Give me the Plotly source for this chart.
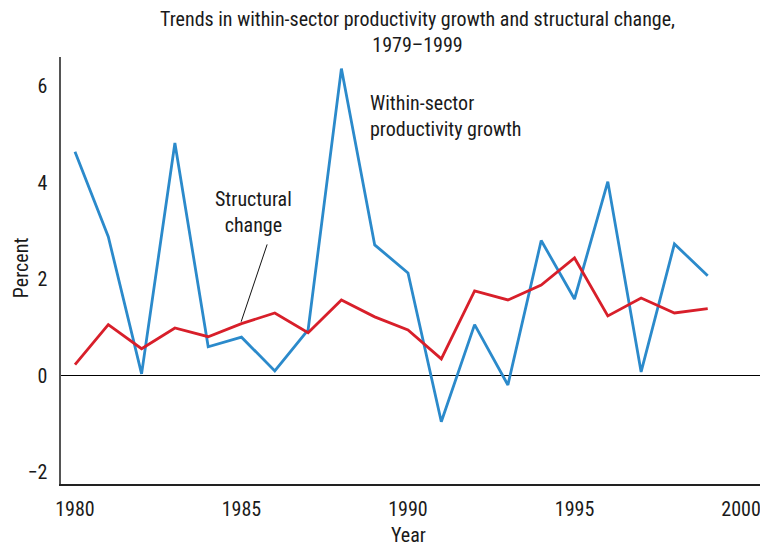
"""Within-sector productivity growth vs structural change, 1979-1999."""

import plotly.graph_objects as go

years = list(range(1980, 2000))
within_sector = [4.64, 2.88, 0.04, 4.82, 0.60, 0.80, 0.10, 0.95, 6.36, 2.71,
                 2.13, -0.95, 1.06, -0.19, 2.80, 1.59, 4.02, 0.08, 2.73, 2.07]
structural = [0.23, 1.06, 0.56, 0.99, 0.81, 1.08, 1.30, 0.89, 1.57, 1.22,
              0.95, 0.35, 1.76, 1.57, 1.88, 2.44, 1.24, 1.61, 1.30, 1.39]
x_ticks = [1980, 1985, 1990, 1995, 2000]
y_ticks = [-2, 0, 2, 4, 6]
y_tick_text = ["\u22122", "0", "2", "4", "6"]

FONT = "Liberation Sans Narrow, Roboto Condensed, Arial Narrow, sans-serif"
BLUE = "#2b8acb"
RED = "#d81f2a"
TEXT = "#1a1a1a"
SIZE = 20

fig = go.Figure()
fig.add_trace(go.Scatter(x=years, y=within_sector, mode="lines",
                         line=dict(color=BLUE, width=2.8), showlegend=False))
fig.add_trace(go.Scatter(x=years, y=structural, mode="lines",
                         line=dict(color=RED, width=2.8), showlegend=False))

# page body has an 8px margin, so the figure is sized to fit the window
fig.update_layout(
    width=760,
    height=539,
    paper_bgcolor="white",
    plot_bgcolor="white",
    font=dict(family=FONT, size=SIZE, color=TEXT),
    margin=dict(l=53, r=3, t=49, b=63, autoexpand=False),
)
fig.update_xaxes(
    range=[1979.58, 2000.72],
    tickvals=x_ticks,
    showgrid=False,
    zeroline=False,
    showline=True,
    linecolor="#222222",
    linewidth=1.5,
    ticks="",
    automargin=False,
    ticklabelstandoff=6,
    tickfont=dict(size=SIZE, color=TEXT),
)
fig.update_yaxes(
    range=[-2.24, 6.6],
    tickvals=y_ticks,
    ticktext=y_tick_text,
    showgrid=False,
    zeroline=True,
    zerolinecolor="#000000",
    zerolinewidth=1.2,
    showline=True,
    linecolor="#555555",
    linewidth=1.5,
    ticks="",
    automargin=False,
    ticklabelstandoff=8,
    tickfont=dict(size=SIZE, color=TEXT),
)

# title and axis titles placed as paper annotations
fig.add_annotation(
    x=0.507, y=1.058, xref="paper", yref="paper",
    text="Trends in within-sector productivity growth and structural change,<br>1979\u20131999",
    showarrow=False, xanchor="center", yanchor="middle", align="center",
    font=dict(size=SIZE, color=TEXT),
)
fig.add_annotation(
    x=-0.0565, y=0.506, xref="paper", yref="paper",
    text="Percent", textangle=-90, borderpad=0,
    showarrow=False, xanchor="center", yanchor="middle",
    font=dict(size=SIZE, color=TEXT),
)
fig.add_annotation(
    x=0.494, y=-0.119, xref="paper", yref="paper",
    text="Year",
    showarrow=False, xanchor="center", yanchor="middle",
    font=dict(size=SIZE, color=TEXT),
)

fig.add_annotation(
    x=1988.8, y=5.38, xref="x", yref="y",
    text="Within-sector<br>productivity growth",
    showarrow=False, xanchor="left", yanchor="middle", align="left",
    font=dict(size=SIZE, color=TEXT),
)
fig.add_annotation(
    x=1985.37, y=3.40, xref="x", yref="y",
    text="Structural<br>change",
    showarrow=False, xanchor="center", yanchor="middle", align="center",
    font=dict(size=SIZE, color=TEXT),
)
fig.add_shape(type="line", xref="x", yref="y",
              x0=1985.77, y0=2.72, x1=1984.99, y1=1.12,
              line=dict(color="#111111", width=1))

fig.write_html("out.html")
